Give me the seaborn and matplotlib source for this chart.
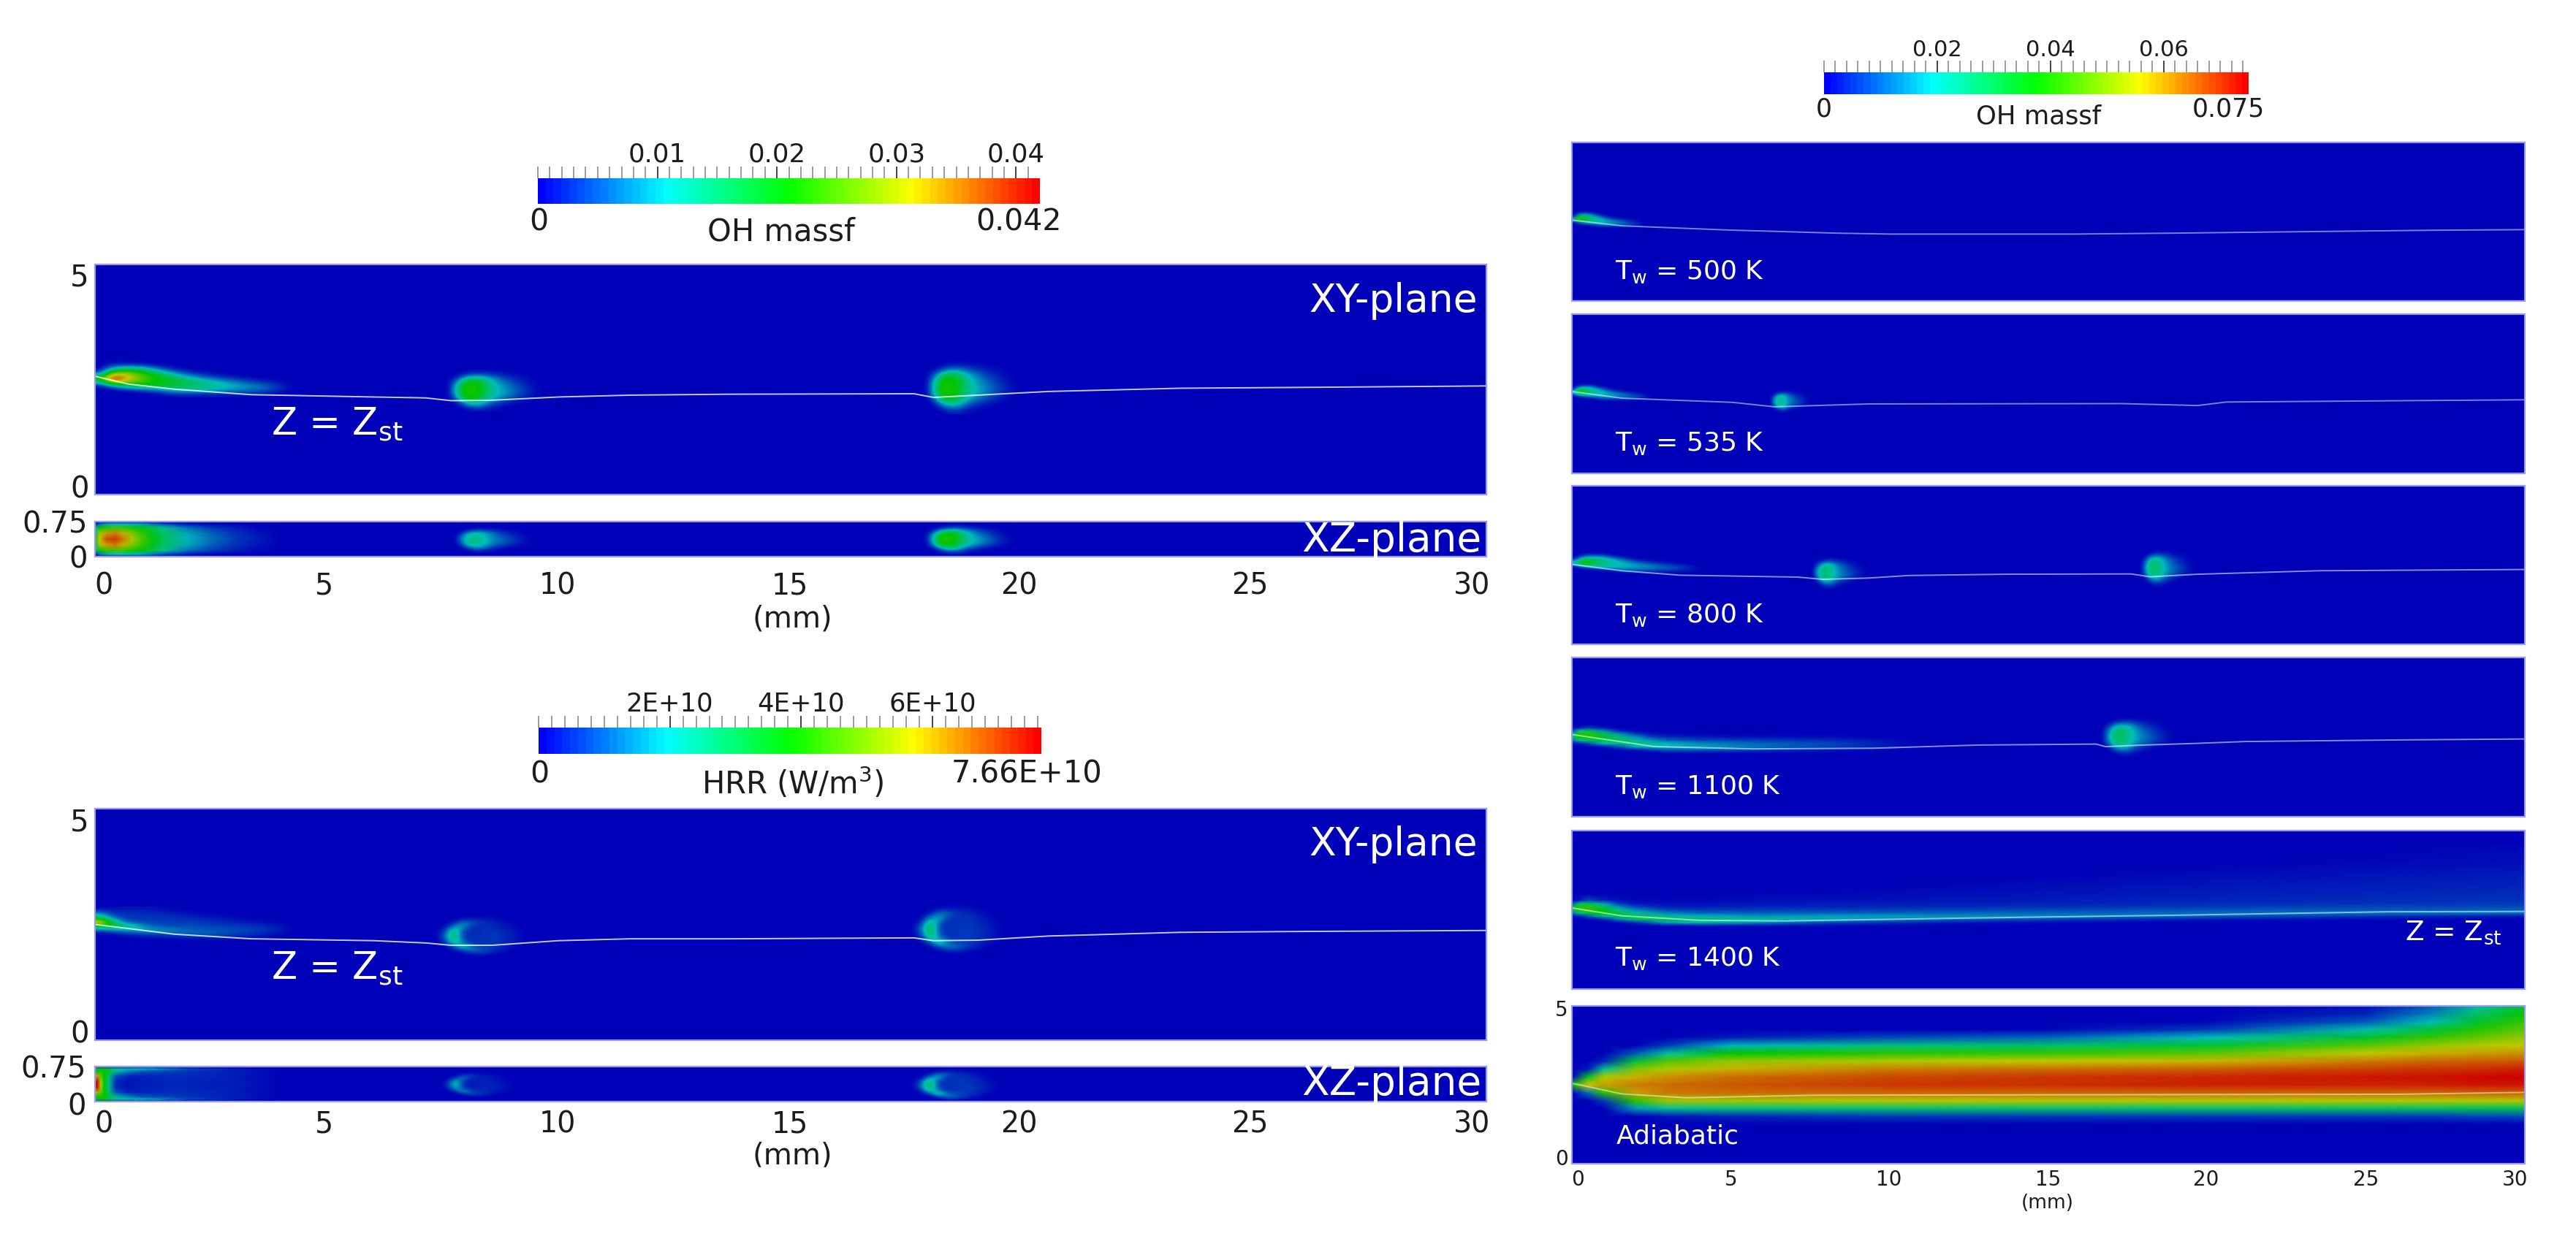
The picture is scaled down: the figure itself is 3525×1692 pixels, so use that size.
import numpy as np
import matplotlib
matplotlib.use("Agg")
import matplotlib.pyplot as plt
import seaborn as sns
from matplotlib.colors import LinearSegmentedColormap
from matplotlib.patches import Rectangle
from matplotlib.transforms import ScaledTranslation

W, H, DPI = 3525, 1692, 100

# tick values and labels
x_ticks = [0, 5, 10, 15, 20, 25, 30]
x_tick_labels = ["0", "5", "10", "15", "20", "25", "30"]
oh_left_ticks = [0.01, 0.02, 0.03, 0.04]
oh_left_labels = ["0.01", "0.02", "0.03", "0.04"]
hrr_ticks = [2e10, 4e10, 6e10]
hrr_labels = ["2E+10", "4E+10", "6E+10"]
oh_right_ticks = [0.02, 0.04, 0.06]
oh_right_labels = ["0.02", "0.04", "0.06"]

# Z = Zst lines, mm
oh_line_x = [0, 0.72, 1.71, 3.37, 6.0, 7.13, 7.68, 8.56, 10, 11.55, 13.65, 17.66, 18.08, 19.03, 20.56, 23.4, 26.25, 30]
oh_line_y = [2.57, 2.40, 2.29, 2.17, 2.12, 2.10, 2.04, 2.05, 2.12, 2.16, 2.18, 2.19, 2.11, 2.16, 2.24, 2.31, 2.33, 2.36]
hrr_line_x = [0, 1.71, 3.37, 6.0, 7.13, 7.68, 8.56, 10, 11.55, 13.65, 17.66, 18.08, 19.03, 20.56, 23.4, 26.25, 30]
hrr_line_y = [2.50, 2.29, 2.19, 2.15, 2.10, 2.05, 2.05, 2.15, 2.19, 2.19, 2.21, 2.15, 2.16, 2.25, 2.33, 2.35, 2.37]
tw500_line_x = [0, 1.58, 4.85, 8.3, 10, 15.8, 19, 21.6, 27, 30]
tw500_line_y = [2.55, 2.37, 2.24, 2.14, 2.11, 2.11, 2.14, 2.17, 2.23, 2.25]
tw535_line_x = [0, 1.58, 5.05, 6.38, 7.7, 9.35, 17.3, 19.7, 20.6, 25.9, 30]
tw535_line_y = [2.57, 2.36, 2.23, 2.09, 2.13, 2.18, 2.19, 2.13, 2.24, 2.28, 2.31]
tw800_line_x = [0, 1.58, 3.4, 7.1, 7.9, 9.35, 10.6, 13.65, 17.6, 18.2, 19.7, 23.5, 30]
tw800_line_y = [2.52, 2.32, 2.18, 2.12, 2.05, 2.09, 2.17, 2.21, 2.22, 2.13, 2.21, 2.32, 2.36]
tw1100_line_x = [0, 2.6, 5.7, 9.5, 12.8, 16.5, 16.8, 18, 19.6, 21.2, 26, 30]
tw1100_line_y = [2.58, 2.2, 2.13, 2.15, 2.25, 2.28, 2.2, 2.25, 2.3, 2.36, 2.41, 2.44]
tw1400_line_x = [0, 1.58, 4, 6.7, 12.4, 19, 25.7, 30]
tw1400_line_y = [2.56, 2.31, 2.17, 2.15, 2.24, 2.33, 2.44, 2.45]
adia_line_x = [0, 1.58, 3.6, 7.7, 26, 30]
adia_line_y = [2.55, 2.21, 2.09, 2.17, 2.2, 2.26]

# flame tip, rows run from top to bottom, colour scale 0-1
tip_oh = [
    [0, 0, 0, 0, 0, 0, 0, 0, 0, 0, 0, 0, 0, 0, 0, 0, 0, 0],
    [0, .04, .05, .04, .02, 0, 0, 0, 0, 0, 0, 0, 0, 0, 0, 0, 0, 0],
    [0, .25, .38, .38, .30, .15, .06, .02, 0, 0, 0, 0, 0, 0, 0, 0, 0, 0],
    [.12, .68, .72, .62, .52, .42, .28, .14, .07, .03, .01, 0, 0, 0, 0, 0, 0, 0],
    [.55, .97, .85, .70, .58, .50, .45, .36, .25, .16, .10, .06, .03, .01, 0, 0, 0, 0],
    [.30, .78, .72, .62, .55, .50, .46, .42, .38, .33, .28, .22, .16, .11, .07, .04, .01, 0],
    [0, .12, .28, .38, .42, .44, .44, .40, .38, .34, .32, .28, .24, .20, .16, .11, .05, 0],
    [0, 0, 0, .02, .05, .10, .20, .24, .24, .22, .20, .18, .16, .14, .12, .08, .03, 0],
    [0, 0, 0, 0, 0, 0, .01, .02, .02, .02, .02, .02, .01, .01, 0, 0, 0, 0],
]
tip_hrr = [
    [0, .02, .03, .03, .03, .02, .01, 0, 0, 0, 0, 0, 0, 0, 0, 0, 0, 0],
    [.18, .07, .06, .06, .06, .05, .04, .03, .02, .01, 0, 0, 0, 0, 0, 0, 0, 0],
    [.38, .14, .08, .07, .07, .07, .07, .06, .05, .04, .03, .02, .01, 0, 0, 0, 0, 0],
    [.85, .42, .14, .09, .08, .08, .08, .08, .08, .07, .06, .05, .04, .03, .02, .01, 0, 0],
    [.45, .50, .42, .30, .18, .12, .10, .10, .10, .09, .09, .08, .08, .07, .06, .05, .03, 0],
    [.08, .12, .18, .22, .24, .22, .20, .17, .14, .13, .12, .11, .10, .09, .08, .06, .03, 0],
    [0, 0, .01, .03, .05, .06, .08, .10, .12, .12, .11, .10, .08, .06, .04, .02, .01, 0],
    [0, 0, 0, 0, 0, 0, 0, 0, 0, 0, 0, 0, 0, 0, 0, 0, 0, 0],
]

# ignition kernel, peak normalised to 1
kernel_oh = [
    [0, 0, 0, 0, 0, 0, 0, 0, 0, 0, 0, 0, 0, 0],
    [0, 0, .06, .18, .22, .18, .12, .08, .05, .03, .01, 0, 0, 0],
    [0, .16, .62, .82, .78, .58, .40, .26, .16, .10, .05, .02, 0, 0],
    [0, .45, .95, 1.0, .92, .68, .50, .36, .26, .17, .09, .04, .01, 0],
    [0, .55, 1.0, 1.0, .95, .72, .54, .42, .32, .22, .13, .06, .02, 0],
    [0, .50, .98, 1.0, .92, .70, .54, .42, .32, .22, .13, .06, .02, 0],
    [0, .22, .80, .92, .80, .58, .40, .28, .18, .11, .05, .02, 0, 0],
    [0, 0, .22, .48, .48, .28, .14, .07, .03, .01, 0, 0, 0, 0],
    [0, 0, 0, .05, .07, .04, .02, 0, 0, 0, 0, 0, 0, 0],
]
kernel_hrr = [
    [0, 0, 0, 0, 0, 0, 0, 0, 0, 0, 0, 0],
    [0, 0, 0, .02, .06, .06, .05, .03, 0, 0, 0, 0],
    [0, 0, .05, .35, .30, .16, .13, .10, .05, .02, 0, 0],
    [0, .02, .40, .55, .12, .14, .14, .12, .08, .04, .01, 0],
    [0, .15, .85, .25, .12, .14, .15, .14, .10, .06, .02, 0],
    [0, .30, 1.0, .18, .12, .14, .16, .15, .12, .08, .03, 0],
    [0, .25, .95, .22, .12, .14, .16, .16, .13, .09, .03, 0],
    [0, .08, .75, .38, .14, .15, .16, .15, .12, .08, .02, 0],
    [0, 0, .18, .75, .40, .20, .18, .15, .10, .04, 0, 0],
    [0, 0, 0, .10, .32, .30, .20, .10, .04, 0, 0, 0],
    [0, 0, 0, 0, 0, .02, .01, 0, 0, 0, 0, 0],
]

# where the shapes sit: x start, y centre, width, height, peak
oh_xy_tip = (0, 2.53, 4.4, 0.85, 1.0)
hrr_xy_tip = (0, 2.5, 4.4, 0.75, 1.0)
oh_xy_kernels = [(7.55, 2.29, 2.3, 0.95, 0.53), (17.85, 2.34, 2.25, 1.18, 0.53)]
oh_xz_kernels = [(7.7, 0.37, 1.95, 0.58, 0.32), (17.85, 0.375, 2.15, 0.66, 0.53)]
hrr_xy_kernels = [(7.28, 2.28, 2.2, 0.95, 0.44), (17.56, 2.42, 2.2, 1.15, 0.48)]
hrr_xz_kernels = [(7.4, 0.375, 1.8, 0.6, 0.3), (17.56, 0.375, 2.1, 0.75, 0.46)]
tw500_tip = (0, 2.6, 2.35, 0.62, 0.58)
tw535_tip = (0, 2.57, 2.6, 0.64, 0.55)
tw535_kernels = [(6.2, 2.28, 1.5, 0.75, 0.3)]
tw800_tip = (0, 2.58, 4.2, 0.74, 0.56)
tw800_kernels = [(7.5, 2.28, 2.0, 1.05, 0.34), (17.85, 2.42, 1.95, 1.2, 0.36)]
tw1100_kernels = [(16.6, 2.54, 2.6, 1.28, 0.37)]

# XZ flame tip tables, one row per x station
oh_xz_tip_x = [0, .1, .25, .43, .6, .8, 1, 1.25, 1.5, 2, 2.5, 3, 3.5, 4]
oh_xz_tip_y = [0, .05, .13, .25, .375, .5, .62, .7, .75]
oh_xz_tip = [
    [0, .02, .25, .40, .45, .40, .25, .02, 0],
    [0, .15, .50, .70, .75, .70, .50, .15, 0],
    [0, .22, .55, .80, .90, .80, .55, .22, 0],
    [0, .25, .58, .84, .93, .84, .58, .25, 0],
    [0, .25, .56, .78, .85, .78, .56, .25, 0],
    [0, .24, .52, .66, .72, .66, .52, .24, 0],
    [0, .22, .48, .56, .60, .56, .48, .22, 0],
    [0, .16, .40, .46, .48, .46, .40, .16, 0],
    [0, .10, .30, .36, .38, .36, .30, .10, 0],
    [0, .03, .15, .22, .24, .22, .15, .03, 0],
    [0, .01, .08, .13, .15, .13, .08, .01, 0],
    [0, 0, .04, .07, .08, .07, .04, 0, 0],
    [0, 0, .01, .03, .04, .03, .01, 0, 0],
    [0, 0, 0, 0, 0, 0, 0, 0, 0],
]
hrr_xz_tip_x = [0, .05, .12, .2, .3, .45, .7, 1, 1.5, 2, 3, 4]
hrr_xz_tip_y = [0, .05, .1, .2, .3, .375, .45, .55, .65, .7, .75]
hrr_xz_tip = [
    [.05, .30, .45, .75, .95, 1.0, .95, .75, .45, .30, .05],
    [.05, .40, .50, .80, .98, 1.0, .98, .80, .50, .40, .05],
    [.05, .50, .52, .62, .70, .72, .70, .62, .52, .50, .05],
    [.05, .50, .50, .50, .50, .50, .50, .50, .50, .50, .05],
    [.03, .42, .42, .36, .32, .30, .32, .36, .42, .42, .03],
    [.02, .32, .30, .12, .06, .05, .06, .12, .30, .32, .02],
    [.01, .30, .18, .05, .03, .03, .03, .05, .18, .30, .01],
    [.01, .25, .12, .05, .04, .04, .04, .05, .12, .25, .01],
    [0, .18, .09, .06, .05, .05, .05, .06, .09, .18, 0],
    [0, .10, .07, .06, .05, .05, .05, .06, .07, .10, 0],
    [0, .04, .04, .04, .04, .04, .04, .04, .04, .04, 0],
    [0, 0, 0, 0, 0, 0, 0, 0, 0, 0, 0],
]

# long flames of the hot wall cases, one row per x station
tw1100_x = [0, .25, .5, 1, 1.5, 2, 2.5, 3, 4, 5, 6, 7, 8, 9, 10, 11]
tw1100_y = [1.9, 2.0, 2.1, 2.2, 2.3, 2.4, 2.5, 2.6, 2.7, 2.8, 2.9]
tw1100_field = [
    [0, 0, 0, 0, .02, .15, .35, .40, .10, 0, 0],
    [0, 0, 0, 0, .04, .28, .50, .52, .28, .03, 0],
    [0, 0, 0, .01, .10, .38, .52, .55, .38, .08, 0],
    [0, 0, 0, .03, .25, .42, .44, .40, .18, .02, 0],
    [0, 0, .01, .12, .34, .38, .34, .20, .05, 0, 0],
    [0, 0, .03, .24, .34, .30, .20, .08, .01, 0, 0],
    [0, 0, .08, .28, .30, .20, .10, .03, 0, 0, 0],
    [0, .01, .12, .27, .24, .14, .06, .01, 0, 0, 0],
    [0, .01, .13, .22, .18, .10, .04, 0, 0, 0, 0],
    [0, .01, .12, .18, .16, .09, .03, 0, 0, 0, 0],
    [0, .01, .09, .15, .14, .08, .03, 0, 0, 0, 0],
    [0, 0, .06, .12, .12, .07, .02, 0, 0, 0, 0],
    [0, 0, .04, .09, .10, .06, .02, 0, 0, 0, 0],
    [0, 0, .02, .06, .07, .04, .01, 0, 0, 0, 0],
    [0, 0, .01, .03, .03, .02, 0, 0, 0, 0, 0],
    [0, 0, 0, 0, 0, 0, 0, 0, 0, 0, 0],
]
tw1400_x = [0, .25, .5, 1, 1.5, 2, 3, 4, 6, 8, 12, 16, 20, 25, 30]
tw1400_y = [1.9, 2, 2.1, 2.2, 2.3, 2.4, 2.5, 2.6, 2.7, 2.8, 3, 3.25, 3.5, 3.75, 4, 4.5]
tw1400_field = [
    [0, 0, 0, 0, .02, .15, .40, .45, .10, 0, 0, 0, 0, 0, 0, 0],
    [0, 0, 0, 0, .04, .30, .55, .55, .32, .04, 0, 0, 0, 0, 0, 0],
    [0, 0, 0, .01, .12, .42, .55, .55, .38, .10, 0, 0, 0, 0, 0, 0],
    [0, 0, 0, .04, .30, .50, .48, .36, .22, .05, 0, 0, 0, 0, 0, 0],
    [0, 0, .01, .18, .42, .42, .30, .18, .08, .02, 0, 0, 0, 0, 0, 0],
    [0, 0, .06, .35, .42, .30, .18, .09, .03, .01, 0, 0, 0, 0, 0, 0],
    [0, .01, .22, .40, .30, .18, .09, .04, .02, .01, 0, 0, 0, 0, 0, 0],
    [0, .03, .27, .36, .24, .14, .08, .04, .02, .01, 0, 0, 0, 0, 0, 0],
    [0, .02, .18, .30, .20, .13, .08, .05, .03, .02, .01, 0, 0, 0, 0, 0],
    [0, .01, .10, .22, .22, .13, .08, .05, .04, .02, .01, 0, 0, 0, 0, 0],
    [0, 0, .03, .14, .20, .14, .09, .06, .04, .03, .02, .01, 0, 0, 0, 0],
    [0, 0, .01, .08, .17, .14, .10, .07, .05, .04, .03, .02, .01, 0, 0, 0],
    [0, 0, 0, .03, .13, .15, .11, .08, .06, .05, .04, .03, .02, .01, 0, 0],
    [0, 0, 0, .01, .07, .16, .12, .09, .07, .06, .05, .04, .03, .02, .01, 0],
    [0, 0, 0, 0, .03, .15, .13, .10, .08, .07, .06, .05, .04, .03, .02, .01],
]

# adiabatic case, one row per x station
adia_x = [0, .5, 1, 2, 3, 5, 10, 15, 20, 25, 27, 28.5, 30]
adia_y = [0, 1.25, 1.5, 1.75, 2, 2.25, 2.5, 2.75, 3, 3.25, 3.5, 3.75, 4, 4.25, 4.5, 4.75, 5]
adia_field = [
    [0, 0, 0, 0, 0, 0, .5, 0, 0, 0, 0, 0, 0, 0, 0, 0, 0],
    [0, 0, 0, 0, 0, .15, .75, .45, .03, 0, 0, 0, 0, 0, 0, 0, 0],
    [0, 0, 0, 0, .08, .55, .80, .72, .30, .05, 0, 0, 0, 0, 0, 0, 0],
    [0, 0, 0, .20, .55, .80, .84, .78, .66, .42, .12, 0, 0, 0, 0, 0, 0],
    [0, 0, .03, .30, .70, .85, .86, .82, .72, .60, .30, .08, 0, 0, 0, 0, 0],
    [0, 0, .05, .33, .70, .86, .89, .86, .78, .68, .50, .24, .04, 0, 0, 0, 0],
    [0, 0, .08, .35, .72, .87, .93, .91, .84, .72, .55, .33, .10, 0, 0, 0, 0],
    [0, 0, .08, .35, .72, .87, .94, .93, .86, .74, .56, .36, .14, .01, 0, 0, 0],
    [0, 0, .08, .35, .72, .87, .96, .95, .88, .77, .61, .43, .25, .08, .01, 0, 0],
    [0, 0, .08, .37, .72, .87, .96, .97, .92, .84, .74, .61, .44, .27, .12, .05, .02],
    [0, 0, .08, .37, .72, .87, .96, .98, .93, .87, .78, .68, .56, .42, .26, .17, .12],
    [0, 0, .09, .38, .72, .88, .97, .99, .94, .88, .80, .72, .62, .54, .44, .36, .28],
    [0, 0, .10, .38, .72, .88, .97, 1.0, .96, .89, .82, .74, .68, .62, .56, .50, .44],
]

rainbow = ["#0000ff", "#00ffff", "#00ff00", "#ffff00", "#ff0000"]
lit_rainbow = ["#0000b8", "#00bcbc", "#00c400", "#c8c800", "#cc0000"]
bar_cmap = LinearSegmentedColormap.from_list("bar", rainbow)
panel_cmap = LinearSegmentedColormap.from_list("panel", lit_rainbow)

sns.set_theme(style="ticks")
plt.rcParams["font.family"] = ["DejaVu Sans"]
plt.rcParams["mathtext.default"] = "regular"
INK = "#1c1c1c"
EDGE = "#9a9aee"

fig = plt.figure(figsize=(W / DPI, H / DPI), dpi=DPI)


def put(px, py, s, size, color=INK, ha="center", zorder=3):
    """Write text at a pixel position of the full picture"""
    return fig.text(px / W, 1 - py / H, s, fontsize=size, color=color, ha=ha, va="center", zorder=zorder)


def box(x0, y0, x1, y1):
    return fig.add_axes([x0 / W, 1 - y1 / H, (x1 - x0) / W, (y1 - y0) / H])


def shift_labels(labels, dx=0, dy=0):
    for lab in labels:
        lab.set_transform(lab.get_transform() + ScaledTranslation(dx / DPI, -dy / DPI, fig.dpi_scale_trans))


def field(ax, xs, ys, values):
    ax.pcolormesh(xs, ys, values, shading="gouraud", cmap=panel_cmap, vmin=0, vmax=1)


def place(ax, shape, where):
    """Put a normalised shape on a panel, rows run from top to bottom"""
    x0, yc, w, h, peak = where
    ax.imshow(np.array(shape) * peak, extent=(x0, x0 + w, yc - h / 2, yc + h / 2), origin="upper", aspect="auto",
              interpolation="bicubic", cmap=panel_cmap, vmin=0, vmax=1, zorder=1.5)


def panel(box_px, ymax, tick_len=10.5, y_ticks=(1, 2, 3, 4)):
    ax = box(*box_px)
    base = np.zeros((int(np.ceil(ymax)), 30))
    sns.heatmap(base, ax=ax, cmap=panel_cmap, vmin=0, vmax=1, cbar=False, xticklabels=False, yticklabels=False)
    ax.set_xticks(x_ticks[1:-1])
    ax.set_yticks(list(y_ticks))
    ax.tick_params(axis="both", direction="in", length=tick_len, width=1.4, color=EDGE,
                   bottom=True, left=True, labelbottom=False, labelleft=False)
    for sp in ax.spines.values():
        sp.set_visible(True)
        sp.set_color(EDGE)
        sp.set_linewidth(1.6)
    return ax


def finish(ax, ymax, line_x=None, line_y=None, alpha=0.7):
    if line_x is not None:
        sns.lineplot(x=line_x, y=line_y, ax=ax, color="white", alpha=alpha, linewidth=1.4, estimator=None)
    ax.set_xlim(0, 30)
    ax.set_ylim(0, ymax)


def colorbar(box_px, vmax, ticks, labels, minor_step, label_size, tick_top_pad):
    ax = box(*box_px)
    n = 64
    sns.heatmap(np.linspace(0, 1, n)[None, :], ax=ax, cmap=bar_cmap, vmin=0, vmax=1, cbar=False,
                xticklabels=False, yticklabels=False)
    ax.xaxis.tick_top()
    ax.set_xticks([t / vmax * n for t in ticks], labels)
    minor = np.arange(0, vmax, minor_step) / vmax * n
    ax.set_xticks(minor, minor=True)
    ax.tick_params(axis="x", which="major", direction="inout", length=23, width=1.4, color="#444444",
                   labelsize=label_size, labelcolor=INK, pad=tick_top_pad, top=True, bottom=False)
    ax.tick_params(axis="x", which="minor", direction="out", length=11.5, width=1.2, color="#8a8a8a",
                   top=True, bottom=False)
    ax.tick_params(axis="y", left=False)
    for sp in ax.spines.values():
        sp.set_visible(False)
    return ax


# left column, OH
colorbar((736, 244, 1423, 279), 0.042, oh_left_ticks, oh_left_labels, 0.001, 25.5, 0)
put(737, 305, "0", 29.5)
put(1394, 304, "0.042", 29.5)
put(1069, 318, "OH massf", 30)

ax = panel((130, 362, 2034, 677), 5)
place(ax, tip_oh, oh_xy_tip)
for k in oh_xy_kernels:
    place(ax, kernel_oh, k)
finish(ax, 5, oh_line_x, oh_line_y, 0.78)
ax.text(0.9935, 0.84, "XY-plane", transform=ax.transAxes, color="white", fontsize=38.5, ha="right", va="center")
ax.text(0.1265, 0.305, "Z = Z$_{st}$", transform=ax.transAxes, color="white", fontsize=37, ha="left", va="center")
ax.set_yticks([0, 5], ["0", "5"])
ax.tick_params(axis="y", labelleft=True, labelsize=29, labelcolor=INK, pad=6)
ax.set_yticks([1, 2, 3, 4], minor=True)
ax.tick_params(axis="y", which="minor", direction="in", length=10.5, width=1.4, color=EDGE, left=True)
shift_labels([ax.get_yticklabels()[0]], dy=-11)
shift_labels([ax.get_yticklabels()[1]], dy=14)

ax = panel((130, 714, 2034, 762), 0.75, y_ticks=())
field(ax, oh_xz_tip_x, oh_xz_tip_y, np.array(oh_xz_tip).T)
for k in oh_xz_kernels:
    place(ax, kernel_oh, k)
finish(ax, 0.75)
ax.text(0.9965, 0.46, "XZ-plane", transform=ax.transAxes, color="white", fontsize=39.5, ha="right", va="center")
ax.set_xticks(x_ticks, x_tick_labels)
ax.set_yticks([0, 0.75], ["0", "0.75"])
ax.tick_params(axis="x", labelbottom=True, labelsize=28.5, labelcolor=INK, pad=15)
ax.tick_params(axis="y", labelleft=True, labelsize=29, labelcolor=INK, pad=7)
for lab, dx in zip(ax.get_xticklabels(), [12, -4, -2, -1.5, -4.6, -6, -20]):
    shift_labels([lab], dx=dx)
put(1084, 847, "(mm)", 29)

# left column, heat release
colorbar((737, 996, 1425, 1032), 7.66e10, hrr_ticks, hrr_labels, 2e9, 25.5, 0)
put(738, 1060, "0", 29.5)
put(1405, 1060, "7.66E+10", 30)
put(1085, 1072, "HRR (W/m$^{3}$)", 30)

ax = panel((130, 1107, 2034, 1424), 5)
place(ax, tip_hrr, hrr_xy_tip)
for k in hrr_xy_kernels:
    place(ax, kernel_hrr, k)
finish(ax, 5, hrr_line_x, hrr_line_y, 0.78)
ax.text(0.9935, 0.845, "XY-plane", transform=ax.transAxes, color="white", fontsize=38.5, ha="right", va="center")
ax.text(0.1265, 0.31, "Z = Z$_{st}$", transform=ax.transAxes, color="white", fontsize=37, ha="left", va="center")
ax.set_yticks([0, 5], ["0", "5"])
ax.tick_params(axis="y", labelleft=True, labelsize=29, labelcolor=INK, pad=6)
ax.set_yticks([1, 2, 3, 4], minor=True)
ax.tick_params(axis="y", which="minor", direction="in", length=10.5, width=1.4, color=EDGE, left=True)
shift_labels([ax.get_yticklabels()[0]], dy=-12)
shift_labels([ax.get_yticklabels()[1]], dy=15)

ax = panel((130, 1460, 2034, 1508), 0.75, y_ticks=())
field(ax, hrr_xz_tip_x, hrr_xz_tip_y, np.array(hrr_xz_tip).T)
for k in hrr_xz_kernels:
    place(ax, kernel_hrr, k)
finish(ax, 0.75)
ax.text(0.9965, 0.5, "XZ-plane", transform=ax.transAxes, color="white", fontsize=39.5, ha="right", va="center")
ax.set_xticks(x_ticks, x_tick_labels)
ax.set_yticks([0, 0.75], ["0", "0.75"])
ax.tick_params(axis="x", labelbottom=True, labelsize=28.5, labelcolor=INK, pad=8)
ax.tick_params(axis="y", labelleft=True, labelsize=29, labelcolor=INK, pad=9)
for lab, dx in zip(ax.get_xticklabels(), [12, -4, -2, -1.5, -4.6, -6, -20]):
    shift_labels([lab], dx=dx)
shift_labels([ax.get_yticklabels()[0]], dy=3)
put(1084, 1582, "(mm)", 29, zorder=3)
fig.add_artist(Rectangle((950 / W, 0), 250 / W, (H - 1598) / H, transform=fig.transFigure, color="white", zorder=5))

# right column
colorbar((2496, 99, 3077, 129), 0.075, oh_right_ticks, oh_right_labels, 0.002, 22, 0)
put(2496, 149, "0", 25)
put(3049, 149, "0.075", 25)
put(2790, 160, "OH massf", 25.5)

ax = panel((2151, 195, 3455, 412), 5, tick_len=7)
place(ax, tip_oh, tw500_tip)
finish(ax, 5, tw500_line_x, tw500_line_y, 0.5)

ax2 = panel((2151, 430, 3455, 648), 5, tick_len=7)
place(ax2, tip_oh, tw535_tip)
for k in tw535_kernels:
    place(ax2, kernel_oh, k)
finish(ax2, 5, tw535_line_x, tw535_line_y, 0.5)

ax3 = panel((2151, 665, 3455, 882), 5, tick_len=7)
place(ax3, tip_oh, tw800_tip)
for k in tw800_kernels:
    place(ax3, kernel_oh, k)
finish(ax3, 5, tw800_line_x, tw800_line_y, 0.55)

ax4 = panel((2151, 900, 3455, 1118), 5, tick_len=7)
field(ax4, tw1100_x, tw1100_y, np.array(tw1100_field).T)
for k in tw1100_kernels:
    place(ax4, kernel_oh, k)
finish(ax4, 5, tw1100_line_x, tw1100_line_y, 0.55)

ax5 = panel((2151, 1137, 3455, 1354), 5, tick_len=7)
field(ax5, tw1400_x, tw1400_y, np.array(tw1400_field).T)
finish(ax5, 5, tw1400_line_x, tw1400_line_y, 0.55)

ax6 = panel((2151, 1377, 3455, 1593), 5, tick_len=7)
field(ax6, adia_x, adia_y, np.array(adia_field).T)
finish(ax6, 5, adia_line_x, adia_line_y, 0.5)
ax6.set_xticks(x_ticks, x_tick_labels)
ax6.tick_params(axis="x", labelbottom=True, labelsize=20, labelcolor=INK, pad=6)
for lab, dx in zip(ax6.get_xticklabels(), [8.5, 0, -1, 0, -1.5, 0, -13]):
    shift_labels([lab], dx=dx)
put(2802, 1647, "(mm)", 19)
put(2137, 1383, "5", 20)
put(2137, 1587, "0", 20)

for py, s in [(372, "T$_{w}$ = 500 K"), (607, "T$_{w}$ = 535 K"), (842, "T$_{w}$ = 800 K"),
              (1077, "T$_{w}$ = 1100 K"), (1312, "T$_{w}$ = 1400 K")]:
    put(2210, py, s, 26, color="white", ha="left", zorder=6)
put(2212, 1555, "Adiabatic", 26, color="white", ha="left", zorder=6)
put(3291, 1277, "Z = Z$_{st}$", 27, color="white", ha="left", zorder=6)

plt.savefig("out.png", dpi=DPI)
plt.close()
